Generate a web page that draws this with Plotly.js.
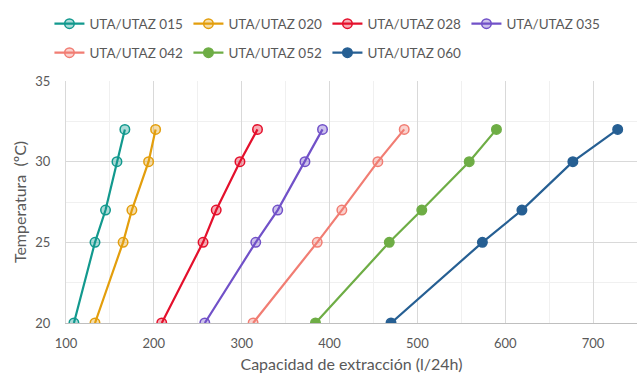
<!DOCTYPE html>
<html>
<head>
<meta charset="utf-8">
<script src="https://cdn.plot.ly/plotly-3.0.1.min.js"></script>
<style>html,body{margin:0;padding:0;background:#fff;}#chart{width:643px;height:381px;}</style>
</head>
<body>
<div id="chart"></div>
<script>
const temperatures = [20, 25, 27, 30, 32];
const seriesNames = ["UTA/UTAZ 015", "UTA/UTAZ 020", "UTA/UTAZ 028", "UTA/UTAZ 035", "UTA/UTAZ 042", "UTA/UTAZ 052", "UTA/UTAZ 060"];
const cap015 = [109, 133, 145, 158, 167];
const cap020 = [133, 165, 175, 194, 202];
const cap028 = [209, 256, 271, 298, 318];
const cap035 = [258, 316, 341, 372, 392];
const cap042 = [313, 386, 414, 455, 485];
const cap052 = [384, 468, 505, 559, 590];
const cap060 = [470, 574, 619, 677, 728];
const xTicks = [100, 200, 300, 400, 500, 600, 700];
const yTicks = [20, 25, 30, 35];

const capacities = [cap015, cap020, cap028, cap035, cap042, cap052, cap060];
const colors = ["#12998E", "#E39E0C", "#E4102C", "#7151C8", "#F17D73", "#6EAD45", "#265F93"];
const fills = ["rgba(18,153,142,0.35)", "rgba(227,158,12,0.35)", "rgba(228,16,44,0.35)", "rgba(113,81,200,0.35)", "rgba(241,125,115,0.35)", "#6EAD45", "#265F93"];

const traces = capacities.map((c, i) => ({
  x: c, y: temperatures, name: seriesNames[i], type: "scatter", mode: "lines+markers",
  line: {color: colors[i], width: 2.2},
  marker: {size: 9.5, color: fills[i], line: {color: colors[i], width: 1.5}},
  legend: i < 4 ? "legend" : "legend2"
}));

const fam = "Lato, 'Liberation Sans', sans-serif";
const legendFont = {family: fam, size: 13.5, color: "#595959"};
const layout = {
  width: 643, height: 381,
  margin: {l: 66, r: 6, t: 81, b: 58},
  paper_bgcolor: "#fff", plot_bgcolor: "#fff",
  font: {family: fam, size: 13, color: "#595959"},
  xaxis: {
    range: [100, 750], tickvals: xTicks, showgrid: true, gridcolor: "#d9d9d9", gridwidth: 1,
    minor: {dtick: 50, showgrid: true, gridcolor: "#f0f0f0", gridwidth: 1},
    showline: true, linecolor: "#bfbfbf", linewidth: 1, zeroline: false, ticks: "",
    ticklabelstandoff: 8,
    tickfont: {size: 13, color: "#595959"},
    title: {text: "Capacidad de extracción (l/24h)", font: {size: 16, color: "#595959"}, standoff: 9}
  },
  yaxis: {
    range: [20, 35], tickvals: yTicks, showgrid: true, gridcolor: "#d9d9d9", gridwidth: 1,
    minor: {dtick: 2.5, showgrid: true, gridcolor: "#f0f0f0", gridwidth: 1},
    showline: true, linecolor: "#d9d9d9", linewidth: 1, zeroline: false, ticks: "",
    ticklabelstandoff: 12,
    tickfont: {size: 13, color: "#595959"},
    title: {text: "Temperatura  (ºC)", font: {size: 16, color: "#595959"}, standoff: 4}
  },
  legend: {orientation: "h", x: -0.029, xanchor: "left", y: 1.30, yanchor: "top",
    font: legendFont, entrywidth: 94, itemwidth: 30, bgcolor: "rgba(0,0,0,0)"},
  legend2: {orientation: "h", x: -0.029, xanchor: "left", y: 1.18, yanchor: "top",
    font: legendFont, entrywidth: 94, itemwidth: 30, bgcolor: "rgba(0,0,0,0)"},
  showlegend: true
};
Plotly.newPlot("chart", traces, layout, {displayModeBar: false, staticPlot: true});
</script>
</body>
</html>
